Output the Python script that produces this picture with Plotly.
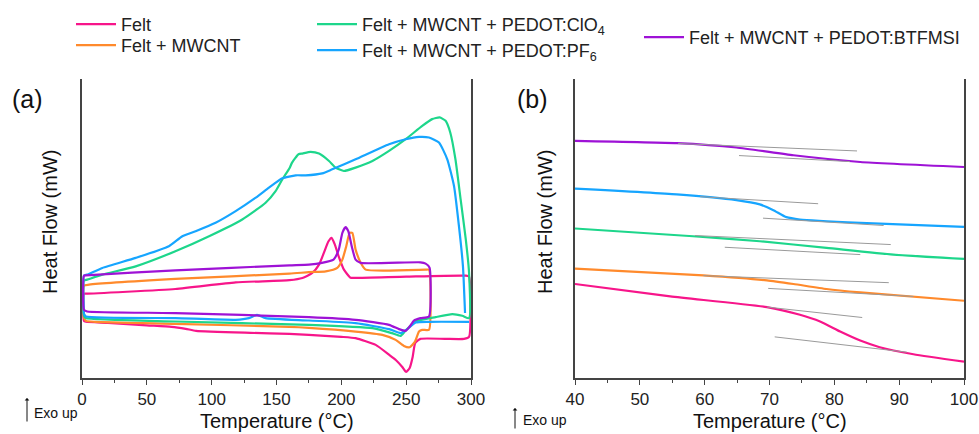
import plotly.graph_objects as go

FONT = "Liberation Sans, Arial, sans-serif"
AXIS = "#444444"

# ---------------- Panel (a): full DSC cycles, 0-300 °C ----------------
# heat flow in arbitrary units (exo up); lower branch = heating, upper = cooling
felt_T = [1.5, 3, 20, 50, 69, 80, 88, 130, 160, 175, 200, 211, 226.5, 237, 242, 247, 250,
          252.7, 255, 257, 261, 280, 294.6, 298.5, 298.5, 296, 250, 211, 207, 202, 198, 195,
          192.5, 190, 186.6, 182.8, 177.6, 170, 160, 118.5, 72, 3, 1.5, 1.5]
felt_hf = [57, 56, 55, 52.5, 51, 49, 47, 45, 44, 43, 41, 39.7, 33, 23, 18, 11, 6,
           10, 21, 35, 39, 39, 39, 41, 101, 102, 101, 99.7, 100, 108, 121, 133,
           139.7, 136, 125, 113, 104.7, 99.7, 97.5, 95.3, 88.7, 84, 84, 57]

mwcnt_T = [1.5, 3, 10, 72, 160, 175, 211, 231.6, 241.9, 248.3, 252.7, 256.8, 259.9, 262.4,
           267.6, 267.6, 265, 218.8, 215, 211, 208.5, 206.4, 203.8, 200.8, 196.9, 188, 175,
           160, 72, 5.4, 1.5, 1.5]
mwcnt_hf = [60, 57, 56, 54, 51, 50, 46.3, 43, 38, 32, 30.7, 36.3, 46.3, 48,
            48, 108, 108, 108, 114.7, 128, 144.7, 144.7, 131.3, 118, 109.7, 106.3, 105.5,
            104, 98.7, 93, 92, 60]

clo4_T = [1.5, 3, 72, 175, 224, 239, 245.7, 249.6, 257.3, 272.7, 285.6, 293.3, 298.5,
          298.5, 296, 292, 288, 284, 280.4, 275.8, 270, 262.4, 249.6, 236.8, 224, 211, 202,
          195.6, 190.5, 182.8, 176.3, 170, 167, 162, 160, 154.5, 149.3, 141.6, 123.6, 98, 72,
          41.4, 15.7, 4, 1.5, 1.5]
clo4_hf = [62, 59.7, 56.3, 53, 49.7, 44.7, 42, 47.3, 56.3, 60.7, 63.7, 62, 59.7,
           104.7, 138, 178, 218, 244.7, 256.3, 259.7, 258, 251.3, 238, 226.3, 216.3, 209.7, 206.3,
           209.7, 216.3, 223.7, 225.3, 223.7, 223, 214.7, 209, 198, 186.3, 174.7, 158, 141.3, 126.3,
           111.3, 103, 98, 97, 62]

pf6_T = [1.5, 3, 72, 118.5, 128.8, 135, 141.6, 175, 211, 236.8, 245.7, 250.9, 257.3, 267.6,
         298.5, None, 295.4, 293.8, 290.7, 286.9, 281.7, 275.3, 267.6, 260, 249.6, 236.8, 211,
         193, 185.3, 172.5, 164.8, 154.5, 144.2, 134, 118.5, 103, 87.6, 77.4, 67, 41.4, 15.7,
         4, 1.5, 1.5]
pf6_hf = [64, 61.3, 59.7, 58, 59.7, 63, 59.7, 57.3, 54.7, 48.7, 44.7, 48.7, 55.3, 56,
          56, None, 64.7, 111.3, 151.3, 191.3, 218, 234.7, 239.7, 240.3, 238, 233, 218,
          208, 204, 202, 202, 199, 189.7, 179.7, 166.3, 154.7, 146.3, 141.3, 131.3, 119.7, 109.7,
          103, 102, 64]

btfmsi_T = [1.5, 4, 72, 175, 211, 236.8, 244.5, 249.6, 252.7, 256, 261, 267.6, 268, 265, 261,
            215, 211, 208, 205.4, 203.3, 200.8, 198, 194, 185, 175, 160, 72, 3, 1.5, 1.5]
btfmsi_hf = [68, 66.3, 64.7, 60.7, 58, 53, 48.7, 47, 51.3, 57.3, 59.7, 61.3, 110, 114, 115.3,
             114.7, 118, 131.3, 146.3, 150.3, 144.7, 128, 118, 114.7, 113, 112.3, 107.3, 102.3, 102, 68]

# ---------------- Panel (b): glass-transition region, 40-100 °C ----------------
b_felt_T = [40, 54.7, 69.6, 74.7, 77.8, 80.9, 84, 87, 92.2, 100]
b_felt_hf = [93.7, 81.3, 70.7, 63, 56.3, 46.3, 37.3, 30.7, 23.7, 16.3]
b_mwcnt_T = [40, 59.8, 69.6, 73.7, 78.8, 84, 100]
b_mwcnt_hf = [109, 102.3, 97.3, 93.7, 88.7, 85.3, 77]
b_clo4_T = [40, 58.2, 68.5, 78.8, 89.1, 100]
b_clo4_hf = [149, 141.3, 136.3, 129.7, 123, 118.7]
b_pf6_T = [40, 55.7, 64.9, 68.5, 70.6, 72.6, 74.7, 84, 100]
b_pf6_hf = [188.7, 183, 177.3, 173, 167.3, 160.3, 158, 154.7, 150.7]
b_btfmsi_T = [40, 55.7, 64.9, 73.7, 84, 100]
b_btfmsi_hf = [236.3, 234, 229.7, 222, 215.3, 210.3]

# tangent construction lines (start, end) for each sample
tan_T = [(69.6, 84.3), (70.8, 91.2), (59.8, 88.4), (69.8, 92.2), (58.5, 88.7), (63.1, 84),
         (59.3, 77.5), (69.0, 87.6), (55.9, 83.5), (65.3, 82.4)]
tan_hf = [(70.7, 60.3), (41, 25.7), (102, 95), (89.3, 81.3), (142, 133), (130.3, 123),
          (180.7, 173.7), (159.3, 152), (233.7, 226.3), (221.7, 215.7)]

names = ["Felt", "Felt + MWCNT", "Felt + MWCNT + PEDOT:ClO<sub>4</sub>",
         "Felt + MWCNT + PEDOT:PF<sub>6</sub>", "Felt + MWCNT + PEDOT:BTFMSI"]
colors = ["#F7158A", "#FF8A2C", "#1DD68B", "#16A5FF", "#9E12D6"]
legend_ids = ["legend", "legend2", "legend3", "legend4", "legend5"]
# top-left corner (px) of each legend entry
legend_pos = [(71, 6), (71, 27), (312, 6), (312, 32), (639, 19)]

series_a = [(felt_T, felt_hf), (mwcnt_T, mwcnt_hf), (clo4_T, clo4_hf),
            (pf6_T, pf6_hf), (btfmsi_T, btfmsi_hf)]
series_b = [(b_felt_T, b_felt_hf), (b_mwcnt_T, b_mwcnt_hf), (b_clo4_T, b_clo4_hf),
            (b_pf6_T, b_pf6_hf), (b_btfmsi_T, b_btfmsi_hf)]

fig = go.Figure()

for (t, h), name, col, lg in zip(series_a, names, colors, legend_ids):
    fig.add_trace(go.Scatter(
        x=t, y=h, mode="lines", name=name, legend=lg,
        line=dict(color=col, width=2.2, shape="spline", smoothing=0.5),
        connectgaps=False, xaxis="x", yaxis="y"))

for (t, h), col in zip(series_b, colors):
    fig.add_trace(go.Scatter(
        x=t, y=h, mode="lines", showlegend=False,
        line=dict(color=col, width=2.2, shape="spline", smoothing=0.5),
        xaxis="x2", yaxis="y2"))

tx, ty = [], []
for (t0, t1), (h0, h1) in zip(tan_T, tan_hf):
    tx += [t0, t1, None]
    ty += [h0, h1, None]
fig.add_trace(go.Scatter(x=tx, y=ty, mode="lines", showlegend=False,
                         line=dict(color="#9a9a9a", width=1), xaxis="x2", yaxis="y2"))

W, H = 979, 434
px = lambda v: v / W
py = lambda v: 1 - v / H

xcommon = dict(showline=True, linecolor=AXIS, linewidth=1.5, ticks="outside", ticklen=5,
               tickwidth=1.2, tickcolor=AXIS, showgrid=False, zeroline=False, automargin=False,
               tickfont=dict(family=FONT, size=17, color="#222222"))
ycommon = dict(showline=True, mirror=True, linecolor=AXIS, linewidth=1.5, showticklabels=False,
               ticks="", showgrid=False, zeroline=False, range=[0, 298], automargin=False,
               domain=[py(378), py(79)])

legend_common = dict(xanchor="left", yanchor="top", bgcolor="rgba(0,0,0,0)", itemwidth=40,
                     font=dict(family=FONT, size=18, color="#222222"), tracegroupgap=0)
legends = {lg: dict(x=px(lx), y=py(ly), **legend_common)
           for lg, (lx, ly) in zip(legend_ids, legend_pos)}

fig.update_layout(
    width=W, height=H, margin=dict(l=0, r=0, t=0, b=0, autoexpand=False),
    paper_bgcolor="white", plot_bgcolor="white",
    font=dict(family=FONT, color="#222222"),
    xaxis=dict(domain=[px(82), px(471)], range=[0, 300], dtick=50, tick0=0, anchor="y",
               minor=dict(ticks="outside", dtick=25, ticklen=3, tickcolor=AXIS), **xcommon),
    yaxis=dict(anchor="x", **ycommon),
    xaxis2=dict(domain=[px(575), px(964)], range=[40, 100], dtick=10, tick0=40, anchor="y2",
                minor=dict(ticks="outside", dtick=5, ticklen=3, tickcolor=AXIS), **xcommon),
    yaxis2=dict(anchor="x2", **ycommon),
    **legends,
)

ann = [
    dict(text="(a)", x=px(27), y=py(99), font=dict(size=25)),
    dict(text="(b)", x=px(532), y=py(99), font=dict(size=25)),
    dict(text="Heat Flow (mW)", x=px(50), y=py(222), textangle=-90, font=dict(size=20)),
    dict(text="Heat Flow (mW)", x=px(545), y=py(222), textangle=-90, font=dict(size=20)),
    dict(text="Temperature (°C)", x=px(276.5), y=py(421), font=dict(size=20)),
    dict(text="Temperature (°C)", x=px(769.5), y=py(421), font=dict(size=20)),
    dict(text="Exo up", x=px(32), y=py(413), xanchor="left", font=dict(size=14)),
    dict(text="Exo up", x=px(521), y=py(420), xanchor="left", font=dict(size=14)),
]
for a in ann:
    a.setdefault("xanchor", "center")
    a.update(xref="paper", yref="paper", yanchor="middle", showarrow=False)
    a["font"].update(family=FONT, color="#111111")
    fig.add_annotation(**a)

# "exo up" direction arrows
for xa, yh, length in [(27, 398, 25), (515, 408, 22)]:
    fig.add_annotation(x=px(xa), y=py(yh), xref="paper", yref="paper", text="",
                       showarrow=True, ax=0, ay=length, arrowhead=1, arrowsize=0.8,
                       arrowwidth=1, arrowcolor="#111111")

fig.write_html("out.html")
